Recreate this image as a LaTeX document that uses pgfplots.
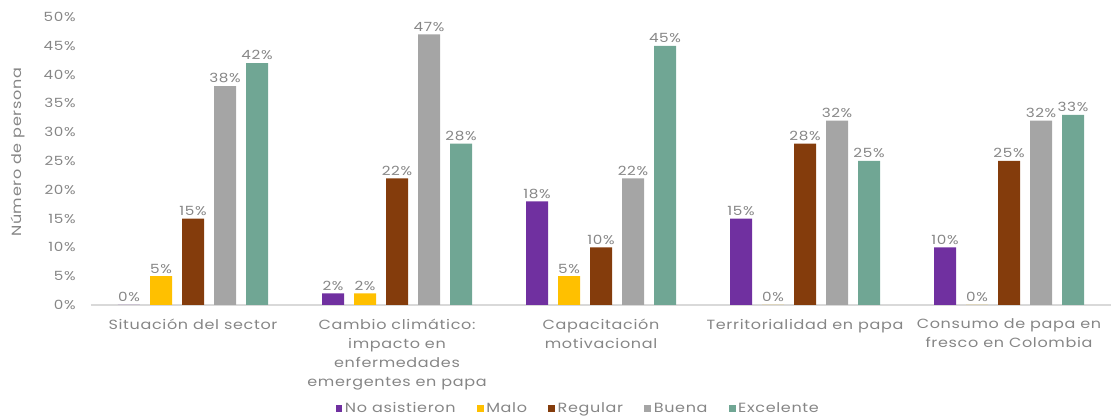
\documentclass[border=0pt]{standalone}
\usepackage{pgfplots}
\pgfplotsset{compat=1.18}
\usepackage{fontspec}
\setmainfont{Poppins}[FakeStretch=1.2, LetterSpace=5]
\definecolor{cpur}{HTML}{7030A0}
\definecolor{cyel}{HTML}{FFC000}
\definecolor{cbro}{HTML}{843C0C}
\definecolor{cgra}{HTML}{A5A5A5}
\definecolor{ctea}{HTML}{70A694}
\definecolor{labgray}{HTML}{868686}
\definecolor{axgray}{HTML}{D9D9D9}
\begin{document}
\begin{tikzpicture}
\begin{axis}[
  scale only axis, width=765pt, height=216pt,
  ybar=7.5pt, bar width=16.5pt,
  xmin=-0.5, xmax=4.5, ymin=0, ymax=50,
  xtick={0,1,2,3,4},
  xticklabels={{Situación del sector},{Cambio climático:\\ impacto en\\ enfermedades\\ emergentes en papa},{Capacitación\\ motivacional},{Territorialidad en papa},{Consumo de papa en\\ fresco en Colombia}},
  xticklabel style={align=center, font=\fontsize{10}{14.25}\selectfont, text=labgray, yshift=-7pt},
  ytick={0,5,...,50},
  yticklabel={\pgfmathprintnumber{\tick}\%},
  yticklabel style={font=\fontsize{9.5}{10}\selectfont, text=labgray, xshift=-8pt},
  /pgf/number format/assume math mode=true,
  axis x line*=bottom, axis y line*=left,
  y axis line style={draw=none},
  x axis line style={draw=axgray, line width=0.9pt, -},
  major tick length=0pt,
  ylabel={Número de persona},
  ylabel style={font=\fontsize{10}{11}\selectfont, text=labgray, at={(axis description cs:-0.0716,0.53)}, anchor=center},
  nodes near coords={\pgfmathprintnumber{\pgfplotspointmeta}\%},
  every node near coord/.append style={font=\fontsize{9.5}{10}\selectfont, text=labgray, inner sep=2pt},
  legend columns=5,
  legend style={draw=none, fill=none, at={(0.478,-0.36)}, anchor=center, font=\fontsize{10}{11}\selectfont, text=labgray, /tikz/every even column/.append style={column sep=14pt}},
  legend image code/.code={\fill[#1] (0pt,-2.5pt) rectangle (5pt,2.5pt);},
]
\addplot[fill=cpur, draw=none] coordinates {(0,0) (1,2) (2,18) (3,15) (4,10)};
\addplot[fill=cyel, draw=none] coordinates {(0,5) (1,2) (2,5) (3,0) (4,0)};
\addplot[fill=cbro, draw=none] coordinates {(0,15) (1,22) (2,10) (3,28) (4,25)};
\addplot[fill=cgra, draw=none] coordinates {(0,38) (1,47) (2,22) (3,32) (4,32)};
\addplot[fill=ctea, draw=none] coordinates {(0,42) (1,28) (2,45) (3,25) (4,33)};
\legend{No asistieron, Malo, Regular, Buena, Excelente}
\end{axis}
\pgfresetboundingbox
\useasboundingbox (-68.25pt,-84pt) rectangle (765.75pt,228.75pt);
\end{tikzpicture}
\end{document}
